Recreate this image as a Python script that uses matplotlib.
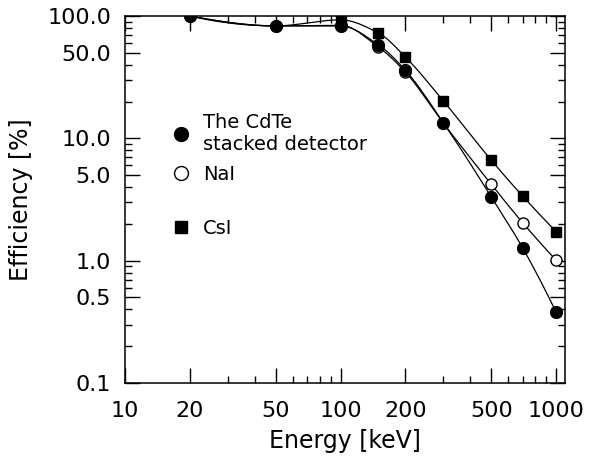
import numpy as np
import matplotlib
matplotlib.use("Agg")
import matplotlib.pyplot as plt
from matplotlib.ticker import FixedLocator, FixedFormatter, LogLocator, NullFormatter
from matplotlib.lines import Line2D

energy = [20, 50, 100, 150, 200, 300, 500, 700, 1000]
cdte = [100, 83, 83, 58, 36, 13.4, 3.33, 1.27, 0.38]
nai = [100, 83, 84, 55.7, 34.8, 13.3, 4.22, 2.04, 1.01]
csi = [100, 83, 93, 72.6, 46.2, 20.2, 6.64, 3.37, 1.73]

labels = ["The CdTe\nstacked detector", "NaI", "CsI"]
xticks = [10, 20, 50, 100, 200, 500, 1000]
xticklabels = ["10", "20", "50", "100", "200", "500", "1000"]
yticks = [0.1, 0.5, 1.0, 5.0, 10.0, 50.0, 100.0]
yticklabels = ["0.1", "0.5", "1.0", "5.0", "10.0", "50.0", "100.0"]


def pchip(x, y, n=400):
    x = np.asarray(x, float)
    y = np.asarray(y, float)
    h = np.diff(x)
    d = np.diff(y) / h
    k = len(x)
    m = np.zeros(k)
    for i in range(1, k - 1):
        if d[i - 1] * d[i] <= 0:
            m[i] = 0.0
        else:
            w1 = 2 * h[i] + h[i - 1]
            w2 = h[i] + 2 * h[i - 1]
            m[i] = (w1 + w2) / (w1 / d[i - 1] + w2 / d[i])
    m[0] = ((2 * h[0] + h[1]) * d[0] - h[0] * d[1]) / (h[0] + h[1])
    if np.sign(m[0]) != np.sign(d[0]):
        m[0] = 0
    m[-1] = ((2 * h[-1] + h[-2]) * d[-1] - h[-1] * d[-2]) / (h[-1] + h[-2])
    if np.sign(m[-1]) != np.sign(d[-1]):
        m[-1] = 0
    xs = np.linspace(x[0], x[-1], n)
    ys = np.empty_like(xs)
    for j, xv in enumerate(xs):
        i = int(np.clip(np.searchsorted(x, xv, side="right") - 1, 0, k - 2))
        t = (xv - x[i]) / h[i]
        h00 = 2 * t ** 3 - 3 * t ** 2 + 1
        h10 = t ** 3 - 2 * t ** 2 + t
        h01 = -2 * t ** 3 + 3 * t ** 2
        h11 = t ** 3 - t ** 2
        ys[j] = h00 * y[i] + h10 * h[i] * m[i] + h01 * y[i + 1] + h11 * h[i] * m[i + 1]
    return xs, ys


def smooth(xd, yd):
    lx, ly = pchip(np.log10(xd), np.log10(yd))
    return 10 ** lx, 10 ** ly


fig = plt.figure(figsize=(5.92, 4.66), dpi=100)
ax = fig.add_axes([125 / 592, 1 - 383 / 466, 440 / 592, 367 / 466])

lw = 0.9
for ys in (cdte, nai, csi):
    sx, sy = smooth(energy, ys)
    ax.plot(sx, sy, color="black", lw=lw, zorder=2)

ax.plot(energy, csi, ls="none", marker="s", ms=7.5, mfc="black", mec="black",
        markevery=list(range(2, len(energy))), zorder=3)
ax.plot(energy, nai, ls="none", marker="o", ms=8, mfc="white", mec="black",
        mew=1.0, zorder=4)
ax.plot(energy, cdte, ls="none", marker="o", ms=8.5, mfc="black", mec="black",
        zorder=5)

ax.set_xscale("log")
ax.set_yscale("log")
ax.set_xlim(10, 1100)
ax.set_ylim(0.1, 100)

ax.xaxis.set_major_locator(FixedLocator(xticks))
ax.xaxis.set_major_formatter(FixedFormatter(xticklabels))
ax.xaxis.set_minor_locator(LogLocator(base=10, subs=np.arange(2, 10)))
ax.xaxis.set_minor_formatter(NullFormatter())
ax.yaxis.set_major_locator(FixedLocator(yticks))
ax.yaxis.set_major_formatter(FixedFormatter(yticklabels))
ax.yaxis.set_minor_locator(LogLocator(base=10, subs=np.arange(2, 10)))
ax.yaxis.set_minor_formatter(NullFormatter())

ax.tick_params(which="both", direction="in", top=True, right=True, width=1.0,
               labelsize=16)
ax.tick_params(which="major", length=11)
ax.tick_params(which="minor", length=5)
ax.tick_params(axis="x", which="major", pad=13)
ax.tick_params(axis="y", which="major", pad=10)
for s in ax.spines.values():
    s.set_linewidth(1.1)

ax.set_xlabel("Energy [keV]", fontsize=17, labelpad=6)
ax.set_ylabel("Efficiency [%]", fontsize=17, labelpad=10)

h1 = Line2D([], [], ls="none", marker="o", ms=10, mfc="black", mec="black")
h2 = Line2D([], [], ls="none", marker="o", ms=10, mfc="white", mec="black", mew=1.0)
h3 = Line2D([], [], ls="none", marker="s", ms=9, mfc="black", mec="black")
leg1 = ax.legend([h1, h2], labels[:2], loc="upper left",
                 bbox_to_anchor=(0.082, 0.757), frameon=False, fontsize=14,
                 handletextpad=0.55, labelspacing=0.55, handlelength=1.2,
                 borderaxespad=0)
ax.add_artist(leg1)
ax.legend([h3], labels[2:], loc="upper left", bbox_to_anchor=(0.082, 0.468),
          frameon=False, fontsize=14, handletextpad=0.55, handlelength=1.2,
          borderaxespad=0)

fig.savefig("out.png", dpi=100)
